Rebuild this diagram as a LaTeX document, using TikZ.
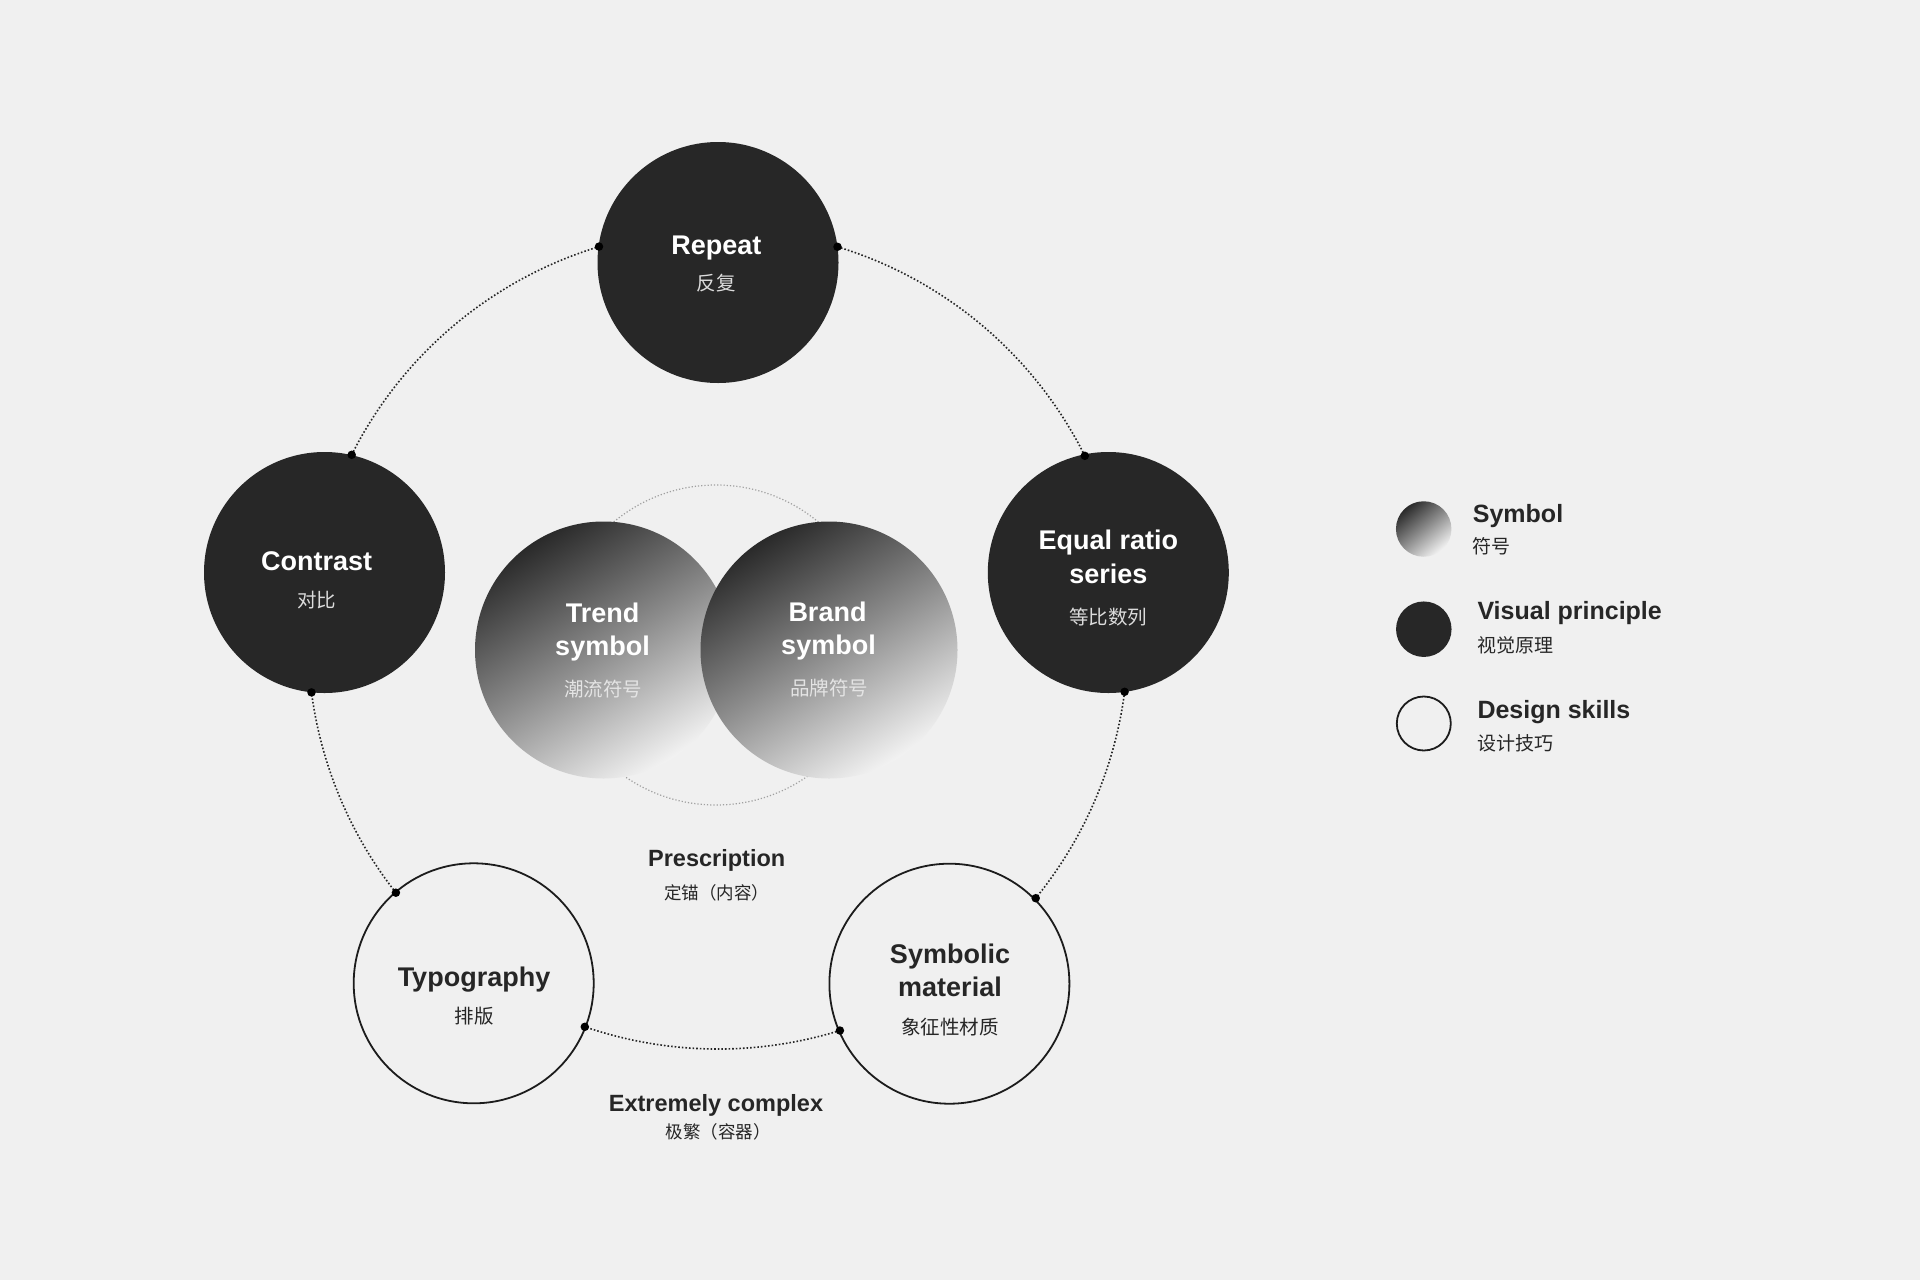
\documentclass[tikz,border=0pt]{standalone}
\usepackage{fontspec}
\setmainfont{Liberation Sans}
\newfontfamily\cjkfont{Noto Sans CJK SC}
\definecolor{bg}{HTML}{F0F0F0}
\definecolor{nodedark}{HTML}{272727}
\definecolor{linedark}{HTML}{1C1C1C}
\definecolor{symdark}{HTML}{2A2A2A}
\definecolor{symmid}{HTML}{8C8C8C}
\definecolor{symlight}{HTML}{F2F2F2}
\definecolor{ringcol}{HTML}{262626}
\definecolor{innerring}{HTML}{A0A0A0}
\definecolor{txtdark}{HTML}{262626}
\definecolor{cjklight}{HTML}{DCDCDC}
\definecolor{cjkgrad}{HTML}{E4E4E4}
\begin{document}
\begin{tikzpicture}[x=1pt,y=-1pt,
  darkc/.style={circle, fill=nodedark, minimum size=241pt, inner sep=0pt},
  skillc/.style={circle, draw=linedark, line width=1.8pt, fill=bg, minimum size=240pt, inner sep=0pt},
  symc/.style={circle, minimum size=257pt, inner sep=0pt, top color=symdark, bottom color=symlight, middle color=symmid, shading angle=32},
  ringline/.style={draw=ringcol, line width=1.6pt, dotted},
  innerline/.style={draw=innerring, line width=1.2pt, dotted},
  joint/.style={circle, fill=black, minimum size=8.5pt, inner sep=0pt},
  lat/.style={font=\bfseries\fontsize{27}{32}\selectfont, inner sep=0pt, anchor=base},
  latw/.style={lat, text=white},
  latd/.style={lat, text=txtdark},
  cjk/.style={font=\cjkfont\fontsize{19.5}{22}\selectfont, inner sep=0pt, anchor=center},
  cjkw/.style={cjk, text=cjklight},
  cjkg/.style={cjk, text=cjkgrad},
  cjkd/.style={cjk, text=txtdark},
  lab/.style={font=\bfseries\fontsize{23.5}{28}\selectfont, inner sep=0pt, anchor=base, text=txtdark},
  labc/.style={font=\cjkfont\fontsize{17.5}{20}\selectfont, inner sep=0pt, anchor=center, text=txtdark},
  legl/.style={font=\bfseries\fontsize{25}{30}\selectfont, inner sep=0pt, anchor=base west, text=txtdark},
  legc/.style={font=\cjkfont\fontsize{19}{22}\selectfont, inner sep=0pt, anchor=west, text=txtdark},
]
% background / bounding box
\fill[bg] (0,0) rectangle (1920,1280);
\useasboundingbox (0,0) rectangle (1920,1280);

% inner dotted circle
\coordinate (innc) at (716,645);
\draw[innerline] (innc) circle[radius=160];

% gradient symbol circles
\node[symc] (trend) at (603.5,650) {};
\node[symc] (brand) at (829,650) {};

% big dotted ring: joint coordinates
\coordinate (bigc) at (718,639);
\coordinate (rL) at (599.0,246.6);
\coordinate (rR) at (837.5,246.8);
\coordinate (eT) at (1084.8,455.8);
\coordinate (eB) at (1124.6,691.8);
\coordinate (sT) at (1035.7,898.2);
\coordinate (sL) at (839.9,1030.5);
\coordinate (tR) at (584.8,1026.8);
\coordinate (tT) at (395.9,892.7);
\coordinate (cB) at (311.5,692.4);
\coordinate (cT) at (351.7,454.8);

\draw[ringline] (rR) arc[start angle=-73.06, end angle=-26.54, radius=410];
\draw[ringline] (eB) arc[start angle=7.40, end angle=39.21, radius=410];
\draw[ringline] (sL) arc[start angle=72.71, end angle=108.96, radius=410];
\draw[ringline] (tT) arc[start angle=141.78, end angle=172.52, radius=410];
\draw[ringline] (cT) arc[start angle=206.70, end angle=253.13, radius=410];

% principle circles
\node[darkc] (repeat) at (718,262.5) {};
\node[darkc] (contrast) at (324.5,572.5) {};
\node[darkc] (equal) at (1108.3,572.5) {};
% skill circles
\node[skillc] (typo) at (473.7,983.3) {};
\node[skillc] (symbolic) at (949.4,983.7) {};

% joints
\foreach \p in {rL,rR,eT,eB,sT,sL,tR,tT,cB,cT}
  \node[joint] (j\p) at (\p) {};

% texts in circles
\node[latw] (trepeat) at (716.3,254) {Repeat};
\node[cjkw] (crepeat) at (716.3,282.7) {反复};

\node[latw] (tcontrast) at (316.7,570) {Contrast};
\node[cjkw] (ccontrast) at (316.7,600) {对比};

\node[latw] (tequal1) at (1108.3,549) {Equal ratio};
\node[latw] (tequal2) at (1108.3,583.3) {series};
\node[cjkw] (cequal) at (1108.3,616.7) {等比数列};

\node[latw] (ttrend1) at (602.5,622.7) {Trend};
\node[latw] (ttrend2) at (602.5,655.7) {symbol};
\node[cjkg] (ctrend) at (603.3,689) {潮流符号};

\node[latw] (tbrand1) at (827.5,621) {Brand};
\node[latw] (tbrand2) at (828.5,654) {symbol};
\node[cjkg] (cbrand) at (829,688.3) {品牌符号};

\node[latd] (ttypo) at (474,986) {Typography};
\node[cjkd] (ctypo) at (474,1015.7) {排版};

\node[latd] (tsym1) at (950,963.3) {Symbolic};
\node[latd] (tsym2) at (950,996.7) {material};
\node[cjkd] (csym) at (950,1026.7) {象征性材质};

% free labels
\node[lab] (presc) at (716.7,866.7) {Prescription};
\node[labc] (cpresc) at (716.7,893.3) {定锚（内容）};
\node[lab] (extreme) at (716,1111.7) {Extremely complex};
\node[labc] (cextreme) at (718,1131.7) {极繁（容器）};

% legend
\node[circle, minimum size=55.5pt, inner sep=0pt, top color=symdark, bottom color=symlight, middle color=symmid, shading angle=40] (legsym) at (1423.7,529) {};
\node[circle, fill=nodedark, minimum size=55.5pt, inner sep=0pt] (legdark) at (1423.8,629.2) {};
\node[circle, draw=linedark, line width=1.8pt, minimum size=54pt, inner sep=0pt] (legskill) at (1423.8,723.5) {};

\node[legl] (lt1) at (1472.7,522.7) {Symbol};
\node[legc] (lc1) at (1472.7,546.5) {符号};
\node[legl] (lt2) at (1477.3,619) {Visual principle};
\node[legc] (lc2) at (1477.3,645) {视觉原理};
\node[legl] (lt3) at (1477.3,718.3) {Design skills};
\node[legc] (lc3) at (1477.3,743.3) {设计技巧};
\end{tikzpicture}
\end{document}
